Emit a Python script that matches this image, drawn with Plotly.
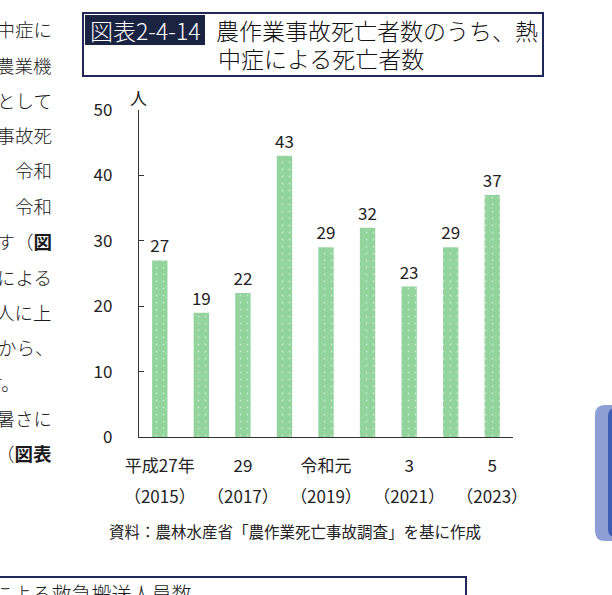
import plotly.graph_objects as go

# data
years = [2015, 2016, 2017, 2018, 2019, 2020, 2021, 2022, 2023]
deaths = [27, 19, 22, 43, 29, 32, 23, 29, 37]
tick_years = [2015, 2017, 2019, 2021, 2023]
era_labels = ["平成27年", "29", "令和元", "3", "5"]
year_labels = ["（2015）", "（2017）", "（2019）", "（2021）", "（2023）"]
y_ticks = [0, 10, 20, 30, 40, 50]

title_tag = "図表2-4-14"
title_line1 = "農作業事故死亡者数のうち、熱"
title_line2 = "中症による死亡者数"
source_note = "資料：農林水産省「農作業死亡事故調査」を基に作成"
next_title = "熱中症による救急搬送人員数"
body_lines = [
    "熱中症に", "農業機", "として", "業事故死", "令和", "令和", "ます（<b>図</b>",
    "による", "人に上", "ことから、", "ます。", "の暑さに", "（<b>図表</b>",
]

FONT = "Noto Sans CJK JP"
GREEN = "#93d49d"
NAVY = "#1f2858"

# page geometry (pixels) -> paper coords
W, H = 612, 595
L, R, T, B = 139, 513, 110, 437


def px(x):
    return (x - L) / (R - L)


def py(y):
    return (B - y) / (B - T)


def rounded(x0, y0, x1, y1, r):
    # rounded rect path in paper coords from pixel box
    rx = r / (R - L)
    ry = r / (B - T)
    a, b, c, d = px(x0), px(x1), py(y1), py(y0)
    return (
        f"M {a + rx},{d} L {b - rx},{d} Q {b},{d} {b},{d - ry} "
        f"L {b},{c + ry} Q {b},{c} {b - rx},{c} L {a + rx},{c} "
        f"Q {a},{c} {a},{c + ry} L {a},{d - ry} Q {a},{d} {a + rx},{d} Z"
    )


bars = go.Bar(
    x=years,
    y=deaths,
    marker={
        "color": GREEN,
        "line": {"width": 0},
        "pattern": {
            "shape": ".",
            "fgcolor": "white",
            "bgcolor": GREEN,
            "size": 7,
            "solidity": 0.05,
        },
    },
    text=deaths,
    textposition="outside",
    constraintext="none",
    textfont={"size": 17, "color": "#222222", "family": FONT},
    cliponaxis=False,
    showlegend=False,
    hoverinfo="skip",
)

# invisible copy so the second (year) tick row is drawn
years_row = go.Scatter(
    x=years,
    y=deaths,
    xaxis="x2",
    mode="markers",
    marker={"opacity": 0},
    showlegend=False,
    hoverinfo="skip",
)

fig = go.Figure(data=[bars, years_row])

light = {"weight": 300}
annotations = [
    dict(x=px(145), y=py(30), text=title_tag, font={"size": 23, "color": "white", **light},
         xanchor="center", yanchor="middle"),
    dict(x=px(214), y=py(30), text=title_line1, font={"size": 23, "color": "#111111", **light},
         xanchor="left", yanchor="middle"),
    dict(x=px(216), y=py(58), text=title_line2, font={"size": 23, "color": "#111111", **light},
         xanchor="left", yanchor="middle"),
    dict(x=px(138), y=py(97), text="人", font={"size": 17, "color": "#222222"},
         xanchor="center", yanchor="middle"),
    dict(x=px(295), y=py(531), text=source_note, font={"size": 15.5, "color": "#222222"},
         xanchor="center", yanchor="middle"),
    dict(x=px(-70), y=py(593), text=next_title, font={"size": 20, "color": "#1a1a1a", **light},
         xanchor="left", yanchor="middle"),
]

line_y = [29, 65, 100, 135, 170, 206, 241, 277, 312, 347, 383, 418, 453]
for txt, yy in zip(body_lines, line_y):
    right = 56 if txt.endswith("、") else (22 if txt.endswith("。") else 54)
    annotations.append(
        dict(x=px(right), y=py(yy), text=txt,
             font={"size": 18.5, "color": "#1a1a1a", **light},
             xanchor="right", yanchor="middle")
    )

for a in annotations:
    a.update(xref="paper", yref="paper", showarrow=False)

shapes = [
    dict(type="rect", xref="paper", yref="paper", x0=px(83), x1=px(543), y0=py(76), y1=py(13),
         line={"color": NAVY, "width": 2}),
    dict(type="rect", xref="paper", yref="paper", x0=px(85), x1=px(205), y0=py(45), y1=py(15),
         fillcolor="#1b2342", line={"width": 0}),
    dict(type="rect", xref="paper", yref="paper", x0=px(-4), x1=px(466), y0=py(640), y1=py(577),
         line={"color": NAVY, "width": 2}),
    dict(type="path", xref="paper", yref="paper", path=rounded(595, 405, 640, 541, 10),
         fillcolor="#8e9fd6", line={"width": 0}),
    dict(type="path", xref="paper", yref="paper", path=rounded(608, 408, 640, 537, 8),
         fillcolor="#3b5db3", line={"width": 0}),
]

fig.update_layout(
    width=W,
    height=H,
    margin={"l": L, "r": W - R, "t": T, "b": H - B, "pad": 0},
    paper_bgcolor="white",
    plot_bgcolor="white",
    font={"family": FONT, "color": "#222222"},
    bargap=0.63,
    annotations=annotations,
    shapes=shapes,
    xaxis={
        "range": [2014.5, 2023.5],
        "tickvals": tick_years,
        "ticktext": era_labels,
        "ticks": "",
        "showline": True,
        "linecolor": "#333333",
        "linewidth": 1.3,
        "showgrid": False,
        "zeroline": False,
        "tickfont": {"size": 17},
        "ticklabelstandoff": 13,
    },
    xaxis2={
        "overlaying": "x",
        "anchor": "y",
        "side": "bottom",
        "range": [2014.5, 2023.5],
        "tickvals": tick_years,
        "ticktext": year_labels,
        "ticks": "",
        "showline": False,
        "showgrid": False,
        "zeroline": False,
        "tickfont": {"size": 17},
        "ticklabelstandoff": 48,
    },
    yaxis={
        "range": [0, 50],
        "tickvals": y_ticks,
        "ticks": "inside",
        "ticklen": 5,
        "tickcolor": "#333333",
        "showline": True,
        "linecolor": "#333333",
        "linewidth": 1.3,
        "showgrid": False,
        "zeroline": False,
        "tickfont": {"size": 17},
        "ticklabelstandoff": 22,
    },
)

fig.write_html(
    "out.html",
    config={"displayModeBar": False},
    post_script="document.body.style.margin='0'; document.body.style.overflow='hidden';",
)
